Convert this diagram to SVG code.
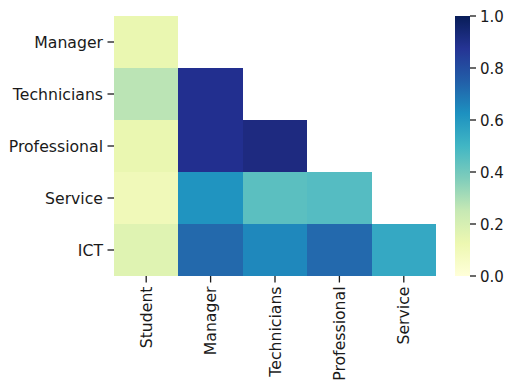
<svg xmlns="http://www.w3.org/2000/svg" width="508" height="381" viewBox="0 0 508 381">
<defs>
<linearGradient id="ylgnbu" x1="0" y1="1" x2="0" y2="0">
<stop offset="0" stop-color="#ffffd9"/>
<stop offset="0.125" stop-color="#edf8b1"/>
<stop offset="0.25" stop-color="#c7e9b4"/>
<stop offset="0.375" stop-color="#7fcdbb"/>
<stop offset="0.5" stop-color="#41b6c4"/>
<stop offset="0.625" stop-color="#1d91c0"/>
<stop offset="0.75" stop-color="#225ea8"/>
<stop offset="0.875" stop-color="#253494"/>
<stop offset="1" stop-color="#081d58"/>
</linearGradient>
<style>
text{font-family:"DejaVu Sans",sans-serif;fill:#1a1a1a}
.ax{font-size:15.7px}
.cb{font-size:15px}
.tick{stroke:#1a1a1a;stroke-width:1.3}
.yl{text-anchor:end}
.xl{text-anchor:end}
</style>
</defs>
<rect width="508" height="381" fill="#ffffff"/>
<g id="cells" shape-rendering="crispEdges">
<rect x="114" y="16" width="64.4" height="52" fill="#eaf7b1"/>
<rect x="114" y="68" width="64.4" height="52" fill="#bbe4b5"/>
<rect x="178.4" y="68" width="64.4" height="52" fill="#222f8f"/>
<rect x="114" y="120" width="64.4" height="52" fill="#eaf7b1"/>
<rect x="178.4" y="120" width="64.4" height="52" fill="#222f8f"/>
<rect x="242.8" y="120" width="64.4" height="52" fill="#1e2a80"/>
<rect x="114" y="172" width="64.4" height="52" fill="#f0f9b9"/>
<rect x="178.4" y="172" width="64.4" height="52" fill="#2094c0"/>
<rect x="242.8" y="172" width="64.4" height="52" fill="#5bbfc0"/>
<rect x="307.2" y="172" width="64.4" height="52" fill="#55bcc2"/>
<rect x="114" y="224" width="64.4" height="52" fill="#dff3b2"/>
<rect x="178.4" y="224" width="64.4" height="52" fill="#2369ac"/>
<rect x="242.8" y="224" width="64.4" height="52" fill="#1f88bc"/>
<rect x="307.2" y="224" width="64.4" height="52" fill="#2369ad"/>
<rect x="371.6" y="224" width="64.4" height="52" fill="#35a8c3"/>
</g>
<g id="y-axis">
<line class="tick" x1="107.5" y1="42" x2="114" y2="42"/>
<line class="tick" x1="107.5" y1="94" x2="114" y2="94"/>
<line class="tick" x1="107.5" y1="146" x2="114" y2="146"/>
<line class="tick" x1="107.5" y1="198" x2="114" y2="198"/>
<line class="tick" x1="107.5" y1="250" x2="114" y2="250"/>
<text class="ax yl" x="103" y="47.6">Manager</text>
<text class="ax yl" x="103" y="99.6">Technicians</text>
<text class="ax yl" x="103" y="151.6">Professional</text>
<text class="ax yl" x="103" y="203.6">Service</text>
<text class="ax yl" x="103" y="255.6">ICT</text>
</g>
<g id="x-axis">
<line class="tick" x1="146.2" y1="276" x2="146.2" y2="282.5"/>
<line class="tick" x1="210.6" y1="276" x2="210.6" y2="282.5"/>
<line class="tick" x1="275" y1="276" x2="275" y2="282.5"/>
<line class="tick" x1="339.4" y1="276" x2="339.4" y2="282.5"/>
<line class="tick" x1="403.8" y1="276" x2="403.8" y2="282.5"/>
<text class="ax xl" transform="translate(151.8,286.5) rotate(-90)">Student</text>
<text class="ax xl" transform="translate(216.2,286.5) rotate(-90)">Manager</text>
<text class="ax xl" transform="translate(280.6,286.5) rotate(-90)">Technicians</text>
<text class="ax xl" transform="translate(345,286.5) rotate(-90)">Professional</text>
<text class="ax xl" transform="translate(409.4,286.5) rotate(-90)">Service</text>
</g>
<g id="colorbar">
<rect x="455" y="16" width="15" height="260" fill="url(#ylgnbu)"/>
<line class="tick" x1="470" y1="16" x2="476" y2="16"/>
<line class="tick" x1="470" y1="68" x2="476" y2="68"/>
<line class="tick" x1="470" y1="120" x2="476" y2="120"/>
<line class="tick" x1="470" y1="172" x2="476" y2="172"/>
<line class="tick" x1="470" y1="224" x2="476" y2="224"/>
<line class="tick" x1="470" y1="276" x2="476" y2="276"/>
<text class="cb" x="480" y="21.5">1.0</text>
<text class="cb" x="480" y="73.5">0.8</text>
<text class="cb" x="480" y="125.5">0.6</text>
<text class="cb" x="480" y="177.5">0.4</text>
<text class="cb" x="480" y="229.5">0.2</text>
<text class="cb" x="480" y="281.5">0.0</text>
</g>
</svg>
